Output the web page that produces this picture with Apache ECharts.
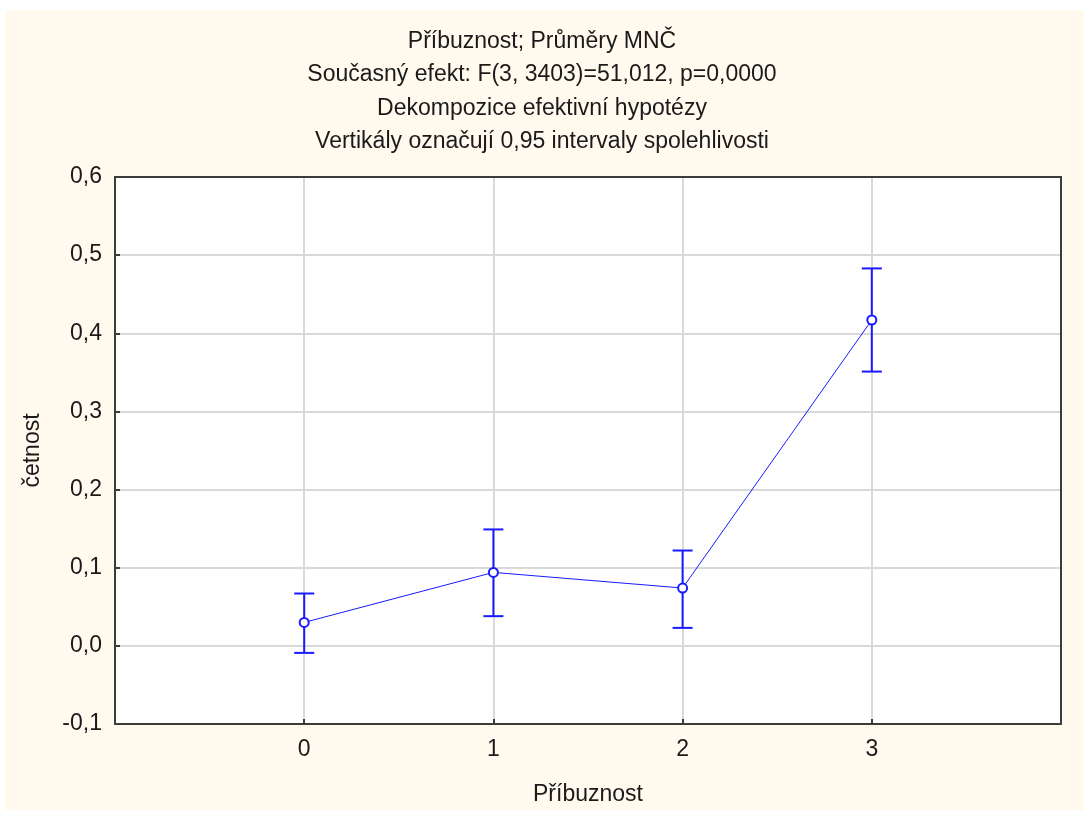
<!DOCTYPE html>
<html>
<head>
<meta charset="utf-8">
<script src="https://cdn.jsdelivr.net/npm/echarts@6/dist/echarts.min.js"></script>
<style>
html,body{margin:0;padding:0;background:#ffffff;}
#bg{position:absolute;left:5px;top:10px;width:1079px;height:800px;background:#fff9ee;}
#chart{position:absolute;left:0;top:0;width:1084px;height:814px;}
</style>
</head>
<body>
<div id="bg"></div>
<div id="chart"></div>
<script>
const titleLines = [
  "Příbuznost; Průměry MNČ",
  "Současný efekt: F(3, 3403)=51,012, p=0,0000",
  "Dekompozice efektivní hypotézy",
  "Vertikály označují 0,95 intervaly spolehlivosti"
];
const xAxisName = "Příbuznost";
const yAxisName = "četnost";
const categories = [0, 1, 2, 3];
const means = [0.030, 0.094, 0.074, 0.417];
const lower = [-0.009, 0.038, 0.023, 0.351];
const upper = [0.067, 0.149, 0.122, 0.483];

const font = "Liberation Sans, Arial, sans-serif";
const blue = "#1a1aff";
const txt = "#1a1a1a";
const frame = "#3c3c3c";

const chart = echarts.init(document.getElementById('chart'), null, {renderer: 'canvas'});
const option = {
  backgroundColor: 'transparent',
  animation: false,
  title: {
    text: titleLines.join('\n'),
    left: 'center',
    top: 20,
    textStyle: {fontFamily: font, fontSize: 23, fontWeight: 'normal', color: txt, lineHeight: 33.3}
  },
  grid: {
    left: 115, right: 23, top: 177, bottom: 90,
    show: true, backgroundColor: '#ffffff', borderColor: frame, borderWidth: 2,
    containLabel: false
  },
  xAxis: [{
    type: 'value', min: -1, max: 4, interval: 1,
    name: xAxisName, nameLocation: 'middle', nameGap: 59,
    nameTextStyle: {fontFamily: font, fontSize: 23, color: txt},
    axisLine: {show: true, onZero: false, lineStyle: {color: frame, width: 2}},
    axisTick: {show: true, inside: true, length: 5, lineStyle: {color: frame, width: 2}},
    axisLabel: {
      fontFamily: font, fontSize: 23, color: txt, margin: 14,
      formatter: v => (v >= 0 && v <= 3) ? String(v) : ''
    },
    splitLine: {show: true, showMinLine: false, showMaxLine: false, lineStyle: {color: '#d9d9d9', width: 2}}
  }, {
    type: 'value', min: -1, max: 4, position: 'top',
    axisLine: {show: true, onZero: false, lineStyle: {color: frame, width: 2}},
    axisTick: {show: false}, axisLabel: {show: false}, splitLine: {show: false}
  }],
  yAxis: [{
    type: 'value', min: -0.1, max: 0.6, interval: 0.1,
    name: yAxisName, nameLocation: 'middle', nameGap: 71, nameRotate: 90,
    nameTextStyle: {fontFamily: font, fontSize: 23, color: txt},
    axisLine: {show: true, onZero: false, lineStyle: {color: frame, width: 2}},
    axisTick: {show: true, inside: true, length: 5, lineStyle: {color: frame, width: 2}},
    axisLabel: {
      fontFamily: font, fontSize: 23, color: txt, margin: 13,
      formatter: v => v.toFixed(1).replace('.', ',')
    },
    splitLine: {show: true, showMinLine: false, showMaxLine: false, lineStyle: {color: '#d9d9d9', width: 2}}
  }, {
    type: 'value', min: -0.1, max: 0.6, position: 'right',
    axisLine: {show: true, onZero: false, lineStyle: {color: frame, width: 2}},
    axisTick: {show: false}, axisLabel: {show: false}, splitLine: {show: false}
  }],
  series: [
    {
      type: 'custom',
      data: categories.map((c, i) => [c, lower[i], upper[i]]),
      renderItem: function (params, api) {
        const x = api.value(0);
        const lo = api.coord([x, api.value(1)]);
        const hi = api.coord([x, api.value(2)]);
        const hw = 10;
        const st = {stroke: blue, lineWidth: 2};
        return {
          type: 'group',
          children: [
            {type: 'line', shape: {x1: lo[0], y1: lo[1], x2: hi[0], y2: hi[1]}, style: st},
            {type: 'line', shape: {x1: lo[0] - hw, y1: lo[1], x2: lo[0] + hw, y2: lo[1]}, style: st},
            {type: 'line', shape: {x1: hi[0] - hw, y1: hi[1], x2: hi[0] + hw, y2: hi[1]}, style: st}
          ]
        };
      },
      z: 3
    },
    {
      type: 'line',
      data: categories.map((c, i) => [c, means[i]]),
      symbol: 'emptyCircle', symbolSize: 9,
      lineStyle: {color: blue, width: 1},
      itemStyle: {color: blue, borderColor: blue, borderWidth: 1.5},
      z: 4
    }
  ]
};
chart.setOption(option);
</script>
</body>
</html>
